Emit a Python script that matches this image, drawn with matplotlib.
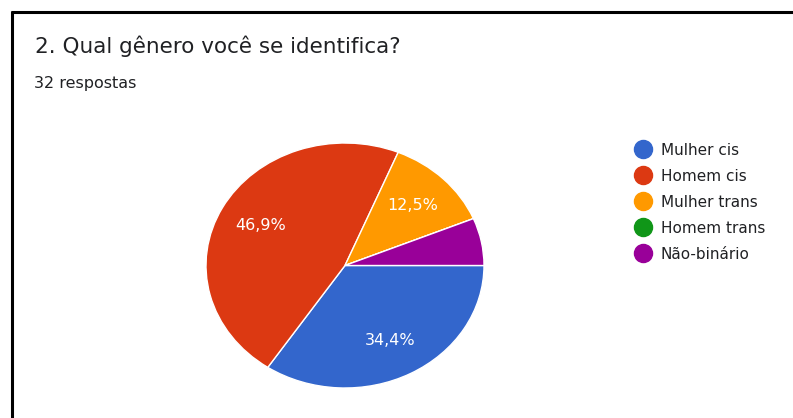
import matplotlib
matplotlib.use("Agg")
import matplotlib.pyplot as plt
from matplotlib.lines import Line2D

# ── data ────────────────────────────────────────────────
TITLE    = "2. Qual gênero você se identifica?"
SUBTITLE = "32 respostas"
labels   = ["Mulher cis", "Homem cis", "Mulher trans", "Homem trans", "Não-binário"]
counts   = [11, 15, 4, 0, 2]
colors   = ["#3366cc", "#dc3912", "#ff9900", "#109618", "#990099"]

W, H = 793, 418
# screenshot text is wide, DejaVu is the closest wide sans
plt.rcParams["font.family"] = ["DejaVu Sans"]

fig = plt.figure(figsize=(W / 100, H / 100), dpi=100)
fig.patch.set_facecolor("white")


def fx(x):
    return x / W


def fy(y):
    return 1 - y / H


# border (top + left only, like the screenshot)
fig.add_artist(Line2D([fx(11), 1], [fy(12), fy(12)], color="black", lw=2.2,
                      solid_capstyle="butt"))
fig.add_artist(Line2D([fx(12), fx(12)], [fy(11), 0], color="black", lw=2.2,
                      solid_capstyle="butt"))

fig.text(fx(35), fy(53), TITLE, fontsize=15.5, color="#202124", va="baseline")
fig.text(fx(34), fy(88), SUBTITLE, fontsize=11.5, color="#202124", va="baseline")

# pie axes (screenshot is a bit stretched horizontally -> ellipse)
ax = fig.add_axes([fx(206), fy(388), (484 - 206) / W, (388 - 143) / H])


def pct(p):
    return (f"{p:.1f}%".replace(".", ",")) if p >= 10 else ""


wedges, texts, autotexts = ax.pie(
    counts, colors=colors, startangle=0, counterclock=False,
    autopct=pct, pctdistance=0.69,
    wedgeprops=dict(edgecolor="white", linewidth=1.0),
    textprops=dict(color="white", fontsize=11.5),
)
ax.set_aspect("auto")
ax.set_xlim(-1, 1)
ax.set_ylim(-1, 1)
ax.axis("off")

handles = [Line2D([0], [0], marker="o", linestyle="", markersize=13,
                  markerfacecolor=c, markeredgecolor=c) for c in colors]
fig.legend(handles, labels, loc="upper left", bbox_to_anchor=(fx(628), fy(135)),
           frameon=False, fontsize=11, handlelength=1.0, handletextpad=0.65,
           labelspacing=0.72, borderpad=0, labelcolor="#202124")

fig.savefig("out.png", dpi=100)
